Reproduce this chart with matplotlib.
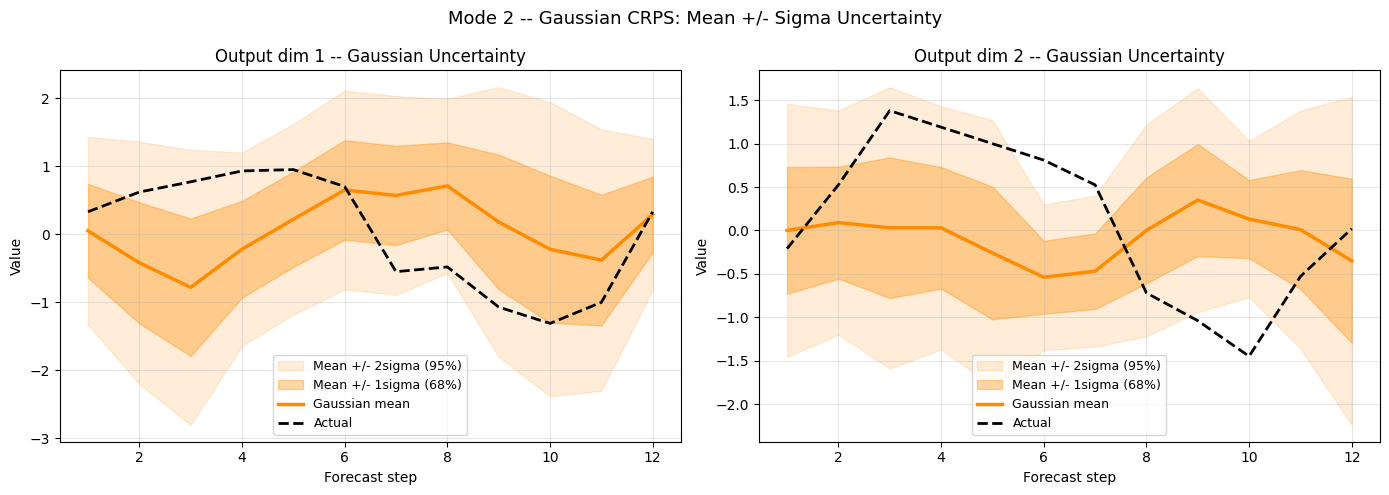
import numpy as np
import matplotlib
matplotlib.use("Agg")
import matplotlib.pyplot as plt

steps = np.arange(1, 13)

# Output dim 1
mean_1 = [0.05, -0.42, -0.78, -0.22, 0.22, 0.65, 0.57, 0.71, 0.18, -0.22, -0.38, 0.29]
sigma_1 = [0.69, 0.89, 1.01, 0.71, 0.70, 0.73, 0.73, 0.64, 0.99, 1.08, 0.96, 0.555]
actual_1 = [0.33, 0.62, 0.77, 0.93, 0.95, 0.70, -0.55, -0.48, -1.07, -1.31, -1.0, 0.33]

# Output dim 2
mean_2 = [0.0, 0.09, 0.03, 0.03, -0.26, -0.54, -0.47, 0.0, 0.35, 0.13, 0.01, -0.35]
sigma_2 = [0.73, 0.645, 0.81, 0.70, 0.765, 0.42, 0.435, 0.61, 0.645, 0.45, 0.685, 0.945]
actual_2 = [-0.21, 0.525, 1.38, 1.19, 1.0, 0.81, 0.525, -0.72, -1.04, -1.45, -0.53, 0.02]

dims = [(mean_1, sigma_1, actual_1), (mean_2, sigma_2, actual_2)]

fig, axes = plt.subplots(1, 2, figsize=(14, 5), dpi=100)

for i, (ax, (mu, sd, act)) in enumerate(zip(axes, dims)):
    mu = np.asarray(mu)
    sd = np.asarray(sd)
    ax.fill_between(steps, mu - 2 * sd, mu + 2 * sd, color='darkorange', alpha=0.15,
                    label='Mean +/- 2sigma (95%)')
    ax.fill_between(steps, mu - sd, mu + sd, color='darkorange', alpha=0.35,
                    label='Mean +/- 1sigma (68%)')
    ax.plot(steps, mu, color='darkorange', linewidth=2.5, label='Gaussian mean')
    ax.plot(steps, act, 'k--', linewidth=2, label='Actual')
    ax.set_title(f"Output dim {i + 1} -- Gaussian Uncertainty", fontsize=12)
    ax.set_xlabel("Forecast step")
    ax.set_ylabel("Value")
    ax.grid(True, alpha=0.3)
    ax.legend(loc='lower center', fontsize=9)

fig.suptitle("Mode 2 -- Gaussian CRPS: Mean +/- Sigma Uncertainty", fontsize=13)
plt.tight_layout()
fig.savefig("out.png", dpi=100, bbox_inches='tight')
